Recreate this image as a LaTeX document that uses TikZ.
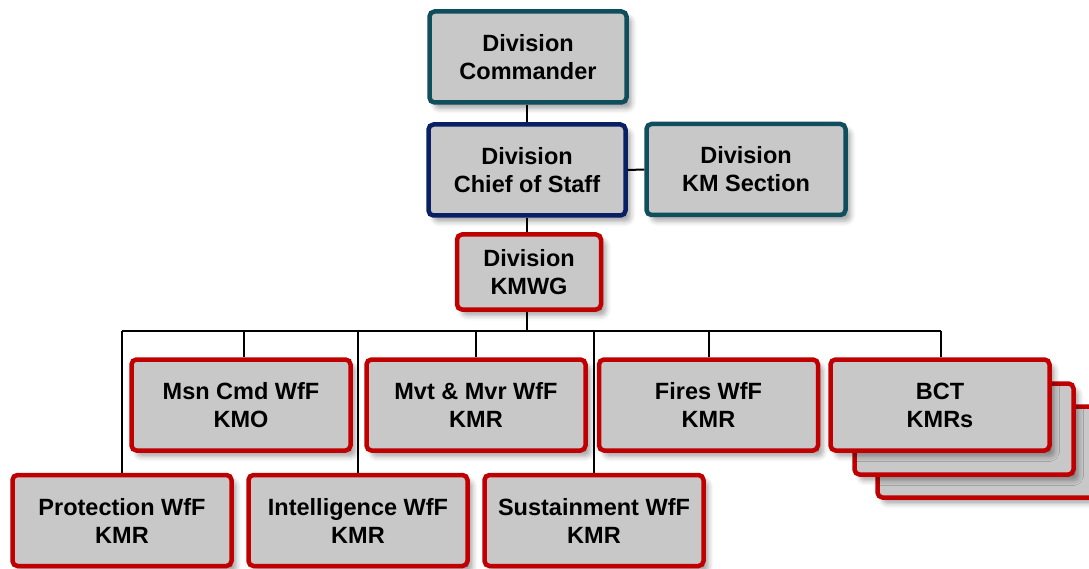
\documentclass[tikz,border=0pt]{standalone}
\usepackage{fontspec}
\setmainfont{Liberation Sans}
\usetikzlibrary{shadows.blur}
\definecolor{tealc}{HTML}{104E5E}
\definecolor{navyc}{HTML}{0A2064}
\definecolor{redc}{HTML}{C00000}
\definecolor{boxgray}{HTML}{C8C8C8}
\begin{document}
\begin{tikzpicture}[x=1pt,y=-1pt,
  box/.style={draw, line width=4.5pt, rounded corners=5pt, fill=boxgray, align=center,
    font=\fontsize{23.5}{28}\selectfont\bfseries, inner sep=0pt,
    blur shadow={shadow xshift=5pt, shadow yshift=-6pt, shadow blur radius=5pt, shadow opacity=35}},
  topbox/.style={box, minimum width=197pt, minimum height=91pt},
  lowbox/.style={box, draw=redc, minimum width=219pt, minimum height=91pt},
  conn/.style={draw=black, line width=2pt}
]
\path[use as bounding box] (0,0) rectangle (1089,569);
\clip (0,0) rectangle (1089,569);

\node[topbox, draw=tealc] (cmd) at (528,57) {Division\\Commander};
\node[topbox, draw=navyc] (cos) at (527,170) {Division\\Chief of Staff};
\node[topbox, draw=tealc, minimum width=199pt] (kms) at (746,169.5) {Division\\KM Section};
\node[box, draw=redc, minimum width=144pt, minimum height=75pt] (kmwg) at (529,272) {Division\\KMWG};

\draw[conn] (cmd.south -| cos.south) -- (cos.north);
\draw[conn] (cos.south) -- (cos.south |- kmwg.north);
\draw[conn] (cos.east) -- (kms.west);

\coordinate (busL) at (122,331);
\coordinate (busR) at (941,331);
\draw[conn] (cos.south |- kmwg.south) -- (cos.south |- busL);
\draw[conn] (busL) -- (busR);

% BCT stack back boxes
\node[lowbox] (bctc) at (987,452) {};
\node[lowbox] (bctb) at (964,429) {};

\node[lowbox] (msn) at (241,405) {Msn Cmd WfF\\KMO};
\node[lowbox] (mvt) at (476,405) {Mvt \& Mvr WfF\\KMR};
\node[lowbox] (fires) at (708.5,405) {Fires WfF\\KMR};
\node[lowbox] (bct) at (940,405) {BCT\\KMRs};

\node[lowbox] (prot) at (122,520.5) {Protection WfF\\KMR};
\node[lowbox] (intel) at (358,520.5) {Intelligence WfF\\KMR};
\node[lowbox] (sust) at (594,520.5) {Sustainment WfF\\KMR};

\draw[conn] (busL) -- (prot.north);
\draw[conn] (244,331) -- (244,0 |- msn.north);
\draw[conn] (intel.north |- busL) -- (intel.north);
\draw[conn] (mvt.north |- busL) -- (mvt.north);
\draw[conn] (sust.north |- busL) -- (sust.north);
\draw[conn] (fires.north |- busL) -- (fires.north);
\draw[conn] (busR) -- (busR |- bct.north);
\end{tikzpicture}
\end{document}
